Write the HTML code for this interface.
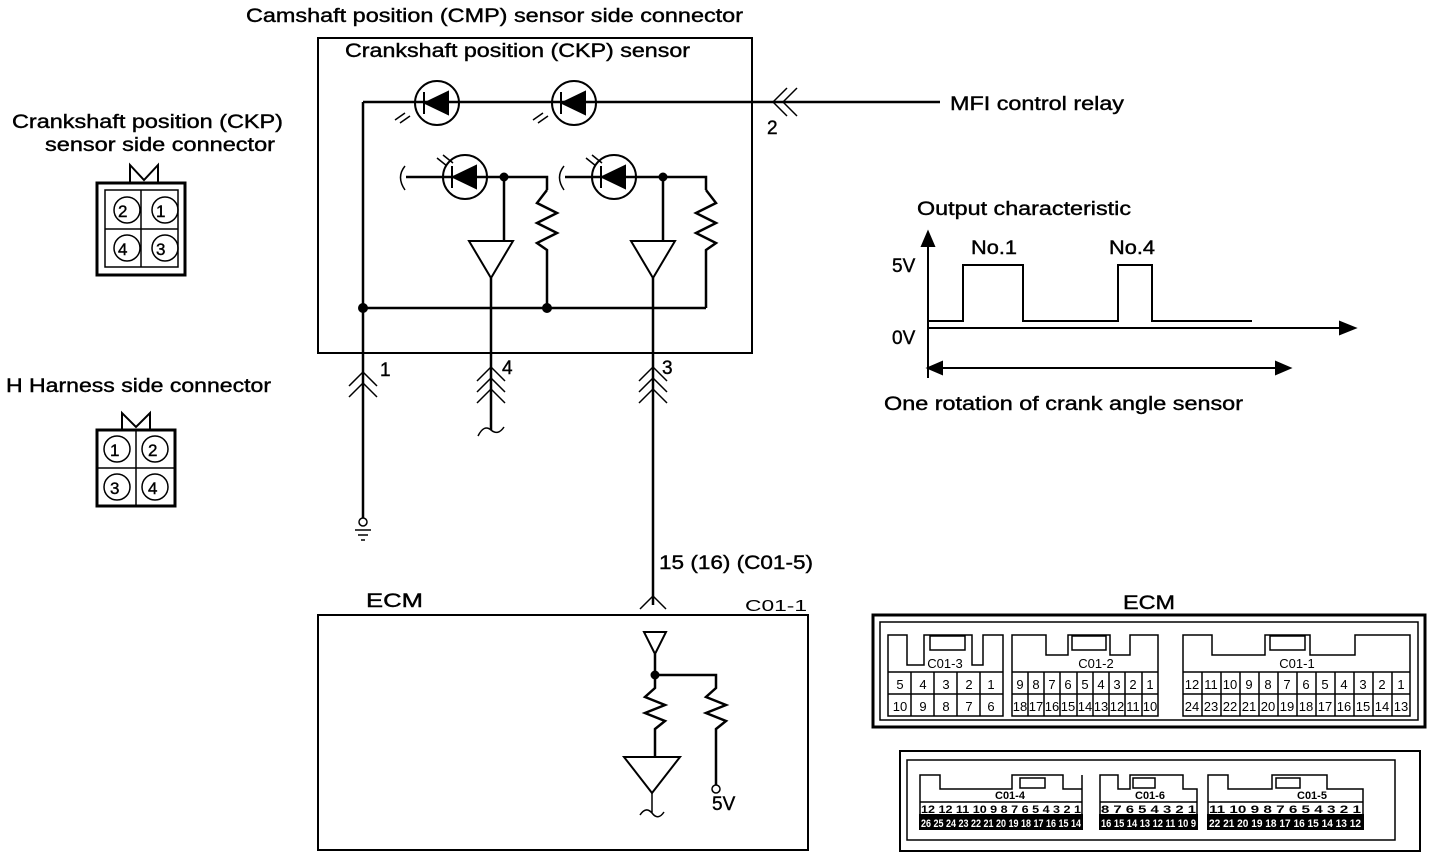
<!DOCTYPE html>
<html><head><meta charset="utf-8"><style>
html,body{margin:0;padding:0;background:#fff;width:1440px;height:860px;overflow:hidden}
svg{display:block}
text{font-family:"Liberation Sans",Arial,sans-serif;fill:#000}
.w{fill:#fff}
</style></head><body>
<svg width="1440" height="860" viewBox="0 0 1440 860" xmlns="http://www.w3.org/2000/svg">
<g stroke="#000" stroke-width="2.5" fill="none">
<rect x="318" y="38" width="434" height="315" stroke-width="2"/>
<path d="M363 102 H940"/>
<path d="M363 102 V518"/>
<circle cx="437" cy="103" r="22" stroke-width="2"/>
<circle cx="574" cy="103" r="22" stroke-width="2"/>
<path d="M406 177 H547 V190"/>
<path d="M565 177 H706 V190"/>
<circle cx="465" cy="177" r="22" stroke-width="2"/>
<circle cx="614" cy="177" r="22" stroke-width="2"/>
<path d="M504 177 V240"/><path d="M663 177 V240"/>
<path d="M547 190 L537 203 L557 213 L537 223 L557 233 L537 243 L547 250 V308"/>
<path d="M706 190 L716 203 L696 213 L716 223 L696 233 L716 243 L706 250 V308"/>
<path d="M469 241 H513 L491 278 Z" stroke-width="2"/>
<path d="M631 241 H675 L653 278 Z" stroke-width="2"/>
<path d="M491 278 V430"/><path d="M653 278 V605"/>
<path d="M363 308 H706"/>
<path d="M405 166 Q396 177 405 190" stroke-width="1.5"/>
<path d="M564 166 Q555 177 564 190" stroke-width="1.5"/>
<path d="M478 436 Q484 424 491 430 Q498 436 504 427" stroke-width="1.5"/>
<g stroke-width="1.5">
<path d="M349 386 L363 372 L377 386 M349 397 L363 383 L377 397"/>
<path d="M477 381 L491 367 L505 381 M477 392 L491 378 L505 392 M477 403 L491 389 L505 403"/>
<path d="M639 381 L653 367 L667 381 M639 392 L653 378 L667 392 M639 403 L653 389 L667 403"/>
<path d="M773 102 L787 88 M773 102 L787 116 M783 102 L797 88 M783 102 L797 116"/>
<path d="M640 609 L653 596 L666 609"/>
</g>
<circle cx="363" cy="522" r="4" stroke-width="1.5"/>
<path d="M355 530 H371 M358 535 H368 M361 540 H365" stroke-width="1.5"/>
<rect x="318" y="615" width="490" height="235" stroke-width="2"/>
<path d="M644 632 H666 L655 654 Z" stroke-width="2"/>
<path d="M655 654 V675 M655 675 H716 V688 L706 697 L726 705 L706 713 L726 721 L716 729 V785"/>
<path d="M655 675 V688 L645 697 L665 705 L645 713 L665 721 L655 729 V757"/>
<circle cx="716" cy="789" r="4" stroke-width="1.5"/>
<path d="M624 757 H680 L652 793 Z" stroke-width="2"/>
<path d="M652 793 V813 M640 815 Q646 806 652 813 Q658 821 664 812" stroke-width="1.5"/>
<path d="M928 240 V378" stroke-width="2"/>
<path d="M928 328 H1350" stroke-width="2"/>
<path d="M928 321 H963 V265 H1023 V321 H1118 V265 H1152 V321 H1252" stroke-width="2"/>
<path d="M928 368 H1290" stroke-width="2"/>
<rect x="97" y="183" width="88" height="92" stroke-width="3"/>
<rect x="105" y="190" width="73" height="77" stroke-width="1.5"/>
<path d="M141 190 V267 M105 229 H178" stroke-width="1.5"/>
<path d="M130 183 V165 L144 180 L158 165 V183" stroke-width="2"/>
<rect x="97" y="430" width="78" height="76" stroke-width="3"/>
<path d="M136 430 V506 M97 468 H175" stroke-width="1.5"/>
<path d="M122 430 V413 L136 427 L150 413 V430" stroke-width="2"/>
<g stroke-width="1.5"><circle cx="127" cy="210" r="13"/><circle cx="165" cy="210" r="13"/><circle cx="127" cy="248" r="13"/><circle cx="165" cy="248" r="13"/>
<circle cx="117" cy="449" r="13"/><circle cx="155" cy="449" r="13"/><circle cx="117" cy="487" r="13"/><circle cx="155" cy="487" r="13"/></g>
<rect x="873" y="615" width="552" height="112" stroke-width="3"/>
<rect x="880" y="622" width="538" height="98" stroke-width="1.5"/>
<g stroke-width="1.5">
<path d="M888 716 V635 H907 V665 H924 V635 H972 V665 H983 V635 H1003 V716 Z"/>
<path d="M930 636 H965 V650 H930 Z"/>
<path d="M888 694 H1003 M888 672 H1003"/>
<path d="M1012 716 V635 H1046 V655 H1068 V635 H1110 V655 H1130 V635 H1158 V716 Z"/>
<path d="M1072 636 H1106 V650 H1072 Z"/>
<path d="M1012 694 H1158 M1012 672 H1158"/>
<path d="M1183 716 V635 H1212 V655 H1265 V635 H1310 V655 H1355 V635 H1410 V716 Z"/>
<path d="M1270 636 H1305 V650 H1270 Z"/>
<path d="M1183 694 H1410 M1183 672 H1410"/>
</g>
<rect x="900" y="751" width="520" height="100" stroke-width="2"/>
<rect x="907" y="760" width="488" height="80" stroke-width="1.5"/>
<g stroke-width="1.5">
<path d="M920 829 V775 H940 V789 H1012 V775 H1063 V789 H1082 V775 H1082 V829 Z"/>
<path d="M1100 829 V775 H1118 V789 H1130 V775 H1183 V789 H1197 V829 Z"/>
<path d="M1208 829 V775 H1228 V789 H1272 V775 H1327 V789 H1363 V829 Z"/>
<path d="M1020 778 H1045 V788 H1020 Z M1133 778 H1155 V788 H1133 Z M1276 778 H1300 V788 H1276 Z"/>
</g>
</g>
<g fill="#000" stroke="#000" stroke-width="2">
<path d="M425 103 L448 92 V114 Z"/><path d="M424 92 V114"/>
<path d="M562 103 L585 92 V114 Z"/><path d="M561 92 V114"/>
<path d="M453 177 L476 166 V188 Z"/><path d="M452 166 V188"/>
<path d="M602 177 L625 166 V188 Z"/><path d="M601 166 V188"/>
<circle cx="504" cy="177" r="3.5"/><circle cx="663" cy="177" r="3.5"/>
<circle cx="363" cy="308" r="4"/><circle cx="547" cy="308" r="4"/>
<circle cx="655" cy="675" r="3.5"/>
<path d="M1355 328 L1340 322 V334 Z"/>
<path d="M928 232 L922 246 H934 Z"/>
<path d="M928 368 L942 362 V374 Z"/><path d="M1290 368 L1276 362 V374 Z"/>
<rect x="920" y="815" width="162" height="14"/><rect x="1100" y="815" width="97" height="14"/><rect x="1208" y="815" width="155" height="14"/>
</g>
<g stroke="#000" stroke-width="1.5" fill="none">
<path d="M395 120 L405 113 M400 123 L410 116"/><path d="M533 120 L543 113 M538 123 L548 116"/>
<path d="M437 158 L447 166 M443 155 L453 163"/><path d="M586 158 L596 166 M592 155 L602 163"/>
</g>
<g stroke="#000" stroke-width="1.5">
<path d="M911 672V716M934 672V716M957 672V716M980 672V716"/>
<path d="M1028 672V716M1044 672V716M1060 672V716M1077 672V716M1093 672V716M1109 672V716M1125 672V716M1142 672V716"/>
<path d="M1202 672V716M1221 672V716M1240 672V716M1259 672V716M1278 672V716M1297 672V716M1316 672V716M1335 672V716M1354 672V716M1373 672V716M1392 672V716"/>
<path d="M920 802H1082M1100 802H1197M1208 802H1363"/>
</g>
<g font-size="19" stroke="#000" stroke-width="0.4">
<text x="246" y="22" textLength="497" lengthAdjust="spacingAndGlyphs">Camshaft position (CMP) sensor  side connector</text>
<text x="345" y="57" textLength="345" lengthAdjust="spacingAndGlyphs">Crankshaft position (CKP) sensor</text>
<text x="950" y="110" textLength="174" lengthAdjust="spacingAndGlyphs">MFI control relay</text>
<text x="767" y="134">2</text>
<text x="12" y="128" textLength="271" lengthAdjust="spacingAndGlyphs">Crankshaft position (CKP)</text>
<text x="45" y="151" textLength="230" lengthAdjust="spacingAndGlyphs">sensor  side connector</text>
<text x="6" y="392" textLength="265" lengthAdjust="spacingAndGlyphs">H Harness side connector</text>
<text x="380" y="376">1</text><text x="502" y="374">4</text><text x="662" y="374">3</text>
<text x="917" y="215" textLength="214" lengthAdjust="spacingAndGlyphs">Output characteristic</text>
<text x="971" y="254" textLength="46" lengthAdjust="spacingAndGlyphs">No.1</text><text x="1109" y="254" textLength="46" lengthAdjust="spacingAndGlyphs">No.4</text>
<text x="892" y="272">5V</text><text x="892" y="344">0V</text>
<text x="884" y="410" textLength="359" lengthAdjust="spacingAndGlyphs">One rotation of crank angle sensor</text>
<text x="659" y="569" textLength="154" lengthAdjust="spacingAndGlyphs">15 (16) (C01-5)</text>
<text x="366" y="607" textLength="57" lengthAdjust="spacingAndGlyphs">ECM</text>
<text x="1123" y="609" textLength="52" lengthAdjust="spacingAndGlyphs">ECM</text>
<text x="712" y="810">5V</text>
<text x="118" y="217" font-size="17">2</text><text x="156" y="217" font-size="17">1</text>
<text x="118" y="255" font-size="17">4</text><text x="156" y="255" font-size="17">3</text>
<text x="110" y="456" font-size="17">1</text><text x="148" y="456" font-size="17">2</text>
<text x="110" y="494" font-size="17">3</text><text x="148" y="494" font-size="17">4</text>
</g>
<g font-size="16"><text x="745" y="611" textLength="62" lengthAdjust="spacingAndGlyphs">C01-1</text></g>
<g font-size="13" text-anchor="middle">
<text x="945" y="668">C01-3</text><text x="1096" y="668">C01-2</text><text x="1297" y="668">C01-1</text>
<text x="900" y="689">5</text><text x="923" y="689">4</text><text x="946" y="689">3</text><text x="969" y="689">2</text><text x="991" y="689">1</text>
<text x="900" y="711">10</text><text x="923" y="711">9</text><text x="946" y="711">8</text><text x="969" y="711">7</text><text x="991" y="711">6</text>
<text x="1020" y="689">9</text><text x="1036" y="689">8</text><text x="1052" y="689">7</text><text x="1068" y="689">6</text><text x="1085" y="689">5</text><text x="1101" y="689">4</text><text x="1117" y="689">3</text><text x="1133" y="689">2</text><text x="1150" y="689">1</text>
<text x="1020" y="711">18</text><text x="1036" y="711">17</text><text x="1052" y="711">16</text><text x="1068" y="711">15</text><text x="1085" y="711">14</text><text x="1101" y="711">13</text><text x="1117" y="711">12</text><text x="1133" y="711">11</text><text x="1150" y="711">10</text>
<text x="1192" y="689">12</text><text x="1211" y="689">11</text><text x="1230" y="689">10</text><text x="1249" y="689">9</text><text x="1268" y="689">8</text><text x="1287" y="689">7</text><text x="1306" y="689">6</text><text x="1325" y="689">5</text><text x="1344" y="689">4</text><text x="1363" y="689">3</text><text x="1382" y="689">2</text><text x="1401" y="689">1</text>
<text x="1192" y="711">24</text><text x="1211" y="711">23</text><text x="1230" y="711">22</text><text x="1249" y="711">21</text><text x="1268" y="711">20</text><text x="1287" y="711">19</text><text x="1306" y="711">18</text><text x="1325" y="711">17</text><text x="1344" y="711">16</text><text x="1363" y="711">15</text><text x="1382" y="711">14</text><text x="1401" y="711">13</text>
</g>
<g font-size="11" font-weight="bold">
<text x="995" y="799">C01-4</text><text x="1135" y="799">C01-6</text><text x="1297" y="799">C01-5</text>
<text x="921" y="813" textLength="160" lengthAdjust="spacingAndGlyphs">12 12 11 10 9 8 7 6 5 4 3 2 1</text>
<text x="1101" y="813" textLength="95" lengthAdjust="spacingAndGlyphs">8 7 6 5 4 3 2 1</text>
<text x="1209" y="813" textLength="152" lengthAdjust="spacingAndGlyphs">11 10 9 8 7 6 5 4 3 2 1</text>
<text class="w" x="921" y="827" textLength="160" lengthAdjust="spacingAndGlyphs">26 25 24 23 22 21 20 19 18 17 16 15 14</text>
<text class="w" x="1101" y="827" textLength="95" lengthAdjust="spacingAndGlyphs">16 15 14 13 12 11 10 9</text>
<text class="w" x="1209" y="827" textLength="152" lengthAdjust="spacingAndGlyphs">22 21 20 19 18 17 16 15 14 13 12</text>
</g>
</svg>
</body></html>
